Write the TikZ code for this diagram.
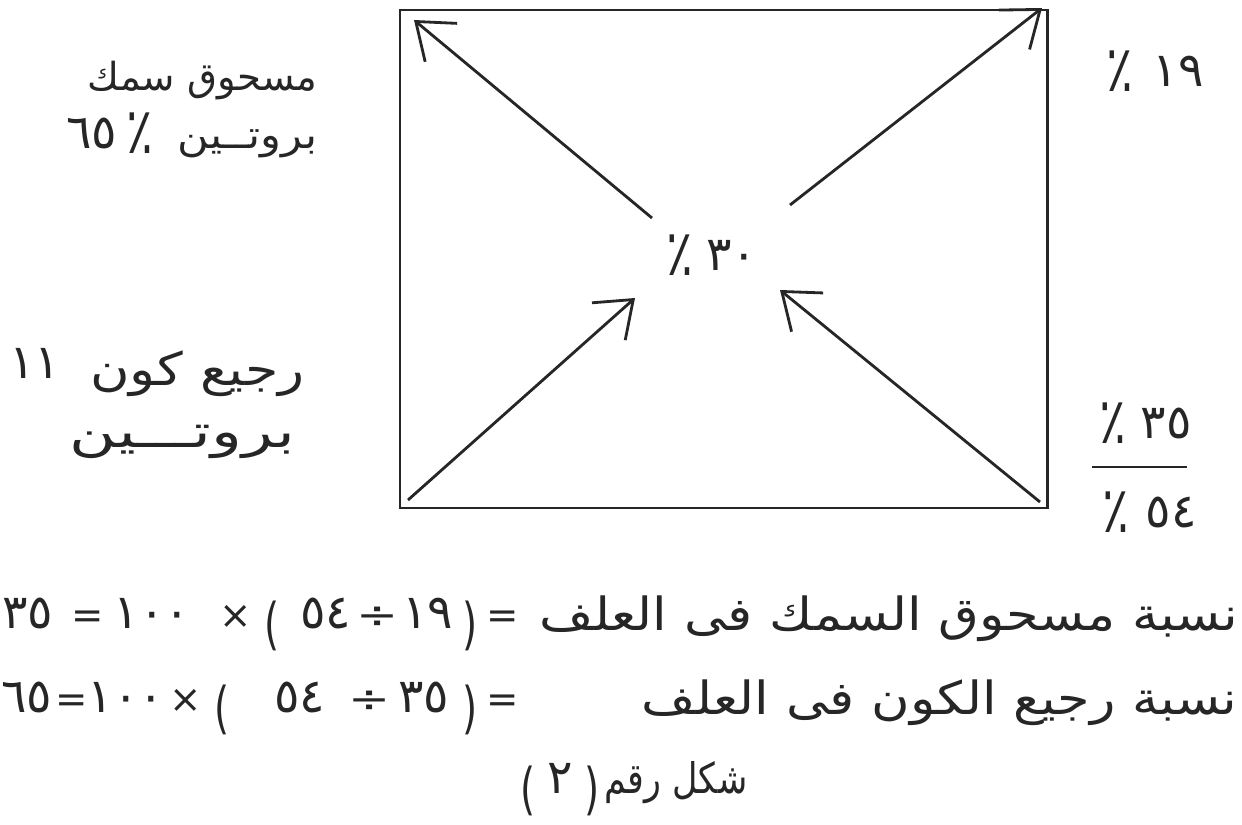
\documentclass[tikz,border=0pt]{standalone}
\usepackage{fontspec}
\usepackage{graphicx}
\TeXXeTstate=1
\newfontfamily\arabicfont[Script=Arabic]{DejaVu Sans}
\newfontfamily\numfont{DejaVu Sans}
\usetikzlibrary{arrows.meta}
\newcommand{\glyphof}[1]{\XeTeXglyph\XeTeXcharglyph"#1\relax}
\newcommand{\openparen}{\raisebox{-0.3cm}{\scalebox{1}[1.45]{\numfont\glyphof{0028}}}}
\newcommand{\closeparen}{\raisebox{-0.3cm}{\scalebox{1}[1.45]{\numfont\glyphof{0029}}}}
\newcommand{\pct}{\raisebox{-0.1cm}{\scalebox{1.05}[1.35]{\numfont ٪}}}
\begin{document}
\begin{tikzpicture}[x=0.02cm,y=-0.02cm,
  box/.style={line width=1.7pt, draw=black!85},
  arr/.style={line width=1.6pt, draw=black!85, -{Straight Barb[length=0.66cm,width=1.0cm,line width=1.6pt]}},
  txt/.style={inner sep=0pt, anchor=base, text=black!85, font=\fontsize{22}{26}\selectfont},
  num/.style={txt, font=\fontsize{27}{30}\selectfont},
  big/.style={font=\fontsize{26}{30}\selectfont},
  rtxt/.style={txt, anchor=base east},
  ltxt/.style={txt, anchor=base west}]
\useasboundingbox[fill=white] (0,0) rectangle (1242,825);
% box
\coordinate (bl) at (400,508);
\coordinate (tr) at (1047,10);
\draw[box] (bl) rectangle (tr);
% arrows
\coordinate (ulTail) at (652,218);
\coordinate (ulTip) at (414,20);
\coordinate (urTail) at (790,205);
\coordinate (urTip) at (1042,8);
\coordinate (llTail) at (408,500);
\coordinate (llTip) at (635,298);
\coordinate (lrTail) at (1040,502);
\coordinate (lrTip) at (780,290);
\draw[arr] (ulTail) -- (ulTip);
\draw[arr] (urTail) -- (urTip);
\draw[arr] (llTail) -- (llTip);
\draw[arr] (lrTail) -- (lrTip);
% centre label
\node[num] (c30p) at (680,270) {\pct};
\node[num] (c30n) at (732,270) {\numfont ٣٠};
% left labels
\node[rtxt] (l1) at (318,90) {\arabicfont\beginR مسحوق سمك\endR};
\node[num] (l2n) at (92,148) {\numfont ٦٥};
\node[num] (l2p) at (140,148) {\pct};
\node[rtxt] (l2) at (318,148) {\scalebox{1.12}[1]{\arabicfont بروتــين}};
\node[rtxt, big] (l3) at (305,385) {\scalebox{1.18}[1]{\arabicfont\beginR رجيع كون\endR}};
\node[num] (l3n) at (35,378) {\numfont ١١};
\node[rtxt, big] (l4) at (296,447) {\scalebox{1.4}[1]{\arabicfont بروتـــين}};
% right labels
\node[num] (r19p) at (1120,86) {\pct};
\node[num] (r19n) at (1178,86) {\numfont ١٩};
\node[num] (r35p) at (1113,438) {\pct};
\node[num] (r35n) at (1166,438) {\numfont ٣٥};
\coordinate (fa) at (1092,467);
\coordinate (fb) at (1187,467);
\draw[box] (fa) -- (fb);
\node[num] (r54p) at (1116,527) {\pct};
\node[num] (r54n) at (1171,527) {\numfont ٥٤};
% equation line 1
\node[num] (eqAa) at (28,628) {\numfont ٣٥};
\node[txt] (eqAb) at (88,628) {\numfont =};
\node[num] (eqAc) at (152,628) {\numfont ١٠٠};
\node[txt] (eqAd) at (236,628) {\numfont ×};
\node[txt] (eqAe) at (272,628) {\openparen};
\node[num] (eqAf) at (326,628) {\numfont ٥٤};
\node[txt] (eqAg) at (378,628) {\scalebox{1.3}[1]{\numfont ÷}};
\node[num] (eqAh) at (428,628) {\numfont ١٩};
\node[txt] (eqAi) at (470,628) {\closeparen};
\node[txt] (eqAj) at (503,628) {\numfont =};
\node[rtxt, big] (eqAtext) at (1238,630) {\scalebox{1.15}[1]{\arabicfont\beginR نسبة مسحوق السمك فى العلف\endR}};
% equation line 2
\node[num] (eqBa) at (27,712) {\numfont ٦٥};
\node[txt] (eqBb) at (72,712) {\numfont =};
\node[num] (eqBc) at (126,712) {\numfont ١٠٠};
\node[txt] (eqBd) at (186,712) {\numfont ×};
\node[txt] (eqBe) at (222,712) {\openparen};
\node[num] (eqBf) at (300,712) {\numfont ٥٤};
\node[txt] (eqBg) at (370,712) {\scalebox{1.3}[1]{\numfont ÷}};
\node[num] (eqBh) at (424,712) {\numfont ٣٥};
\node[txt] (eqBi) at (470,712) {\closeparen};
\node[txt] (eqBj) at (503,712) {\numfont =};
\node[rtxt, big] (eqBtext) at (1238,714) {\scalebox{1.15}[1]{\arabicfont\beginR نسبة رجيع الكون فى العلف\endR}};
% caption
\node[txt] (capa) at (528,793) {\openparen};
\node[num] (capb) at (560,793) {\numfont ٢};
\node[txt] (capc) at (592,793) {\closeparen};
\node[ltxt, font=\fontsize{24}{28}\selectfont] (capt) at (604,793) {\scalebox{0.83}[1]{\arabicfont\beginR شكل رقم\endR}};
\end{tikzpicture}
\end{document}
